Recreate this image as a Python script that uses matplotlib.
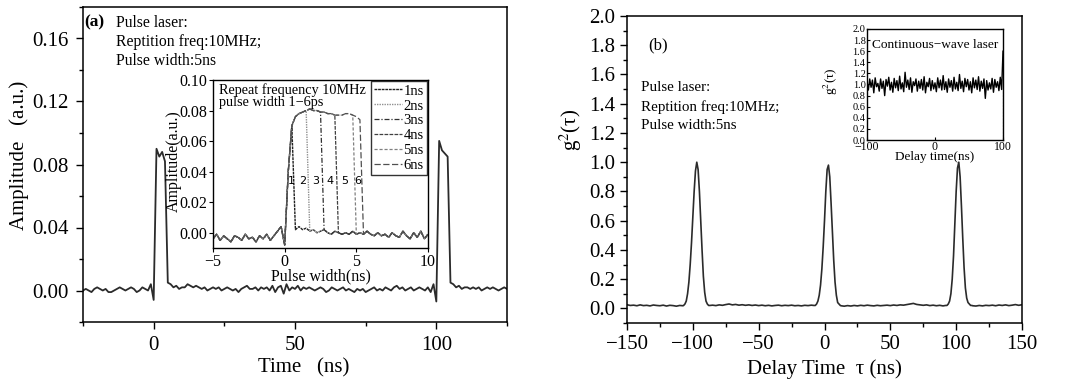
import numpy as np
import matplotlib
matplotlib.use('Agg')
import matplotlib.pyplot as plt
from matplotlib.ticker import MultipleLocator, FormatStrFormatter

plt.rcParams['font.family'] = ['Liberation Serif', 'DejaVu Serif']
plt.rcParams['mathtext.fontset'] = 'stix'

# ---------------- data: panel (a) main trace ----------------
time_a = np.arange(-25, 126, 1)
amp_a = [
    0.000, 0.001, 0.000, -0.001, 0.001, 0.002, 0.001, 0.000, 0.001, -0.001,
    -0.001, 0.000, 0.001, 0.002, 0.001, 0.000, 0.001, 0.002, 0.001, -0.001,
    0.000, 0.002, 0.001, 0.000, 0.004,
    -0.006, 0.090, 0.085, 0.088, 0.082, 0.005,
    0.004, 0.002, 0.003, 0.001, 0.002, 0.002, 0.004, 0.003, 0.002, 0.003,
    0.002, 0.001, 0.002, 0.000, 0.001, 0.002, 0.001, 0.002, 0.000,
    0.001, 0.002, 0.001, 0.000, 0.001,
    -0.001, 0.001, 0.002, 0.003, 0.001,
    0.001, 0.002, 0.000, 0.002, 0.001,
    0.002, 0.000, 0.003, -0.001, 0.002,
    0.003, -0.002, 0.004, 0.000, 0.002,
    0.001, 0.003, 0.000, 0.002, 0.001,
    0.002, 0.001, 0.000, 0.001, 0.002,
    0.001, -0.001, 0.000, 0.002, 0.001,
    0.000, 0.001, 0.002, 0.000, 0.001,
    0.000, -0.001, 0.001, 0.000, 0.001,
    -0.001, 0.000, 0.001, 0.002, 0.000,
    0.001, 0.000, 0.002, 0.001, 0.000,
    0.002, 0.003, 0.001, 0.002, 0.000,
    0.001, 0.002, 0.000, 0.001, 0.002,
    0.001, 0.000, 0.002, -0.001, 0.004,
    -0.007, 0.095, 0.089, 0.087, 0.085, 0.005,
    0.004, 0.002, 0.003, 0.001, 0.002, 0.002, 0.001, 0.002, 0.001, 0.002,
    0.000, 0.001, 0.002, 0.001, 0.002, 0.001, 0.000, 0.001, 0.002, 0.001,
]

# ---------------- data: panel (a) inset ----------------
pre_x = np.arange(-5, 0, 0.25)
pre_amp = [-0.004, -0.001, -0.005, -0.002, -0.004, -0.006, -0.002, -0.003, -0.005, -0.001,
           -0.004, -0.003, -0.006, -0.002, -0.004, -0.001, -0.005, -0.002, 0.001, 0.004]
on_x = np.arange(0, 6.01, 0.25)
on_amp = [-0.008, 0.040, 0.070, 0.076, 0.078, 0.079, 0.080, 0.081, 0.080, 0.080,
          0.079, 0.079, 0.078, 0.078, 0.077, 0.077, 0.077, 0.078, 0.078, 0.077,
          0.076, 0.074, 0.072, 0.070, 0.068]
post_x = np.arange(0.25, 10.01, 0.25)
post_amp = [0.000, 0.000, 0.002, 0.004, 0.002, 0.003, 0.001, 0.002, 0.000, 0.001,
            0.002, 0.000, -0.001, 0.001, 0.000, -0.001, 0.000, -0.001, 0.001, -0.001,
            0.000, -0.001, 0.001, -0.001, -0.002, 0.000, -0.002, -0.001, -0.003, 0.000,
            -0.002, -0.003, 0.001, -0.002, -0.004, 0.000, -0.003, 0.001, -0.004, -0.001]
width_labels = ['1ns', '2ns', '3ns', '4ns', '5ns', '6ns']
fall_ns = [0.5, 1.5, 2.5, 3.5, 4.75, 5.25]
mark_text = ['1', '2', '3', '4', '5', '6']
mark_x = [0.45, 1.25, 2.15, 3.15, 4.2, 5.1]

# ---------------- data: panel (b) ----------------
base_tau = np.arange(-150, 150.1, 2.5)
base_g2 = [
    0.025, 0.020, 0.022, 0.018, 0.024, 0.019, 0.021, 0.017, 0.023, 0.020,
    0.018, 0.022, 0.016, 0.021, 0.019, 0.015, 0.020, 0.018, 0.022, 0.020,
    0.020, 0.020, 0.020, 0.020, 0.020, 0.018, 0.022, 0.019, 0.024, 0.021,
    0.026, 0.030, 0.024, 0.027, 0.022, 0.025, 0.021, 0.024, 0.020, 0.023,
    0.019, 0.022, 0.018, 0.021, 0.017, 0.020, 0.022, 0.018, 0.021, 0.019,
    0.022, 0.018, 0.020, 0.017, 0.021, 0.019, 0.022, 0.018, 0.020, 0.020,
    0.020, 0.020, 0.020, 0.020, 0.020, 0.018, 0.015, 0.019, 0.016, 0.020,
    0.017, 0.021, 0.018, 0.022, 0.019, 0.017, 0.021, 0.018, 0.020, 0.022,
    0.019, 0.023, 0.020, 0.024, 0.022, 0.026, 0.030, 0.034, 0.027, 0.024,
    0.021, 0.024, 0.019, 0.022, 0.018, 0.021, 0.017, 0.020, 0.020, 0.020,
    0.020, 0.020, 0.020, 0.020, 0.020, 0.018, 0.016, 0.020, 0.017, 0.021,
    0.019, 0.022, 0.018, 0.023, 0.020, 0.024, 0.019, 0.022, 0.026, 0.021, 0.025,
]
peak1_tau = np.arange(-107, -86, 1)
peak1_g2 = [0.02, 0.03, 0.05, 0.10, 0.18, 0.30, 0.45, 0.62, 0.80, 0.94, 1.00,
            0.95, 0.80, 0.60, 0.40, 0.22, 0.11, 0.05, 0.03, 0.02, 0.02]
peak2_tau = np.arange(-8, 13, 1)
peak2_g2 = [0.02, 0.02, 0.03, 0.05, 0.09, 0.16, 0.27, 0.42, 0.60, 0.80, 0.95,
            0.98, 0.90, 0.72, 0.52, 0.33, 0.18, 0.09, 0.04, 0.03, 0.02]
peak3_tau = np.arange(92, 113, 1)
peak3_g2 = [0.02, 0.02, 0.03, 0.05, 0.10, 0.20, 0.36, 0.58, 0.80, 0.96, 1.00,
            0.90, 0.70, 0.48, 0.28, 0.14, 0.07, 0.04, 0.03, 0.02, 0.02]

cw_tau = np.arange(-100, 100.1, 2)
cw_g2 = [
    1.05, 0.90, 1.10, 0.95, 1.08, 0.85, 1.12, 0.96, 1.02, 0.88,
    1.10, 0.93, 1.06, 0.80, 1.09, 0.97, 1.13, 0.90, 1.04, 0.86,
    1.11, 0.94, 1.07, 0.89, 1.15, 0.92, 1.03, 0.87, 1.22, 0.95,
    1.08, 0.91, 1.12, 0.86, 1.05, 0.98, 1.10, 0.88, 1.06, 0.93,
    1.09, 0.90, 1.14, 0.85, 1.04, 0.96, 1.11, 0.89, 1.07, 0.92,
    1.03, 0.87, 1.12, 0.94, 1.08, 0.90, 1.16, 0.91, 1.05, 0.86,
    1.10, 0.95, 1.07, 0.88, 1.13, 0.92, 1.04, 0.89, 1.18, 0.93,
    1.06, 0.87, 1.11, 0.96, 1.09, 0.90, 1.05, 0.85, 1.12, 0.94,
    1.08, 0.91, 1.14, 0.88, 1.06, 0.93, 1.10, 0.75, 1.07, 0.90,
    1.03, 0.92, 1.11, 0.86, 1.09, 0.95, 1.05, 0.89, 1.13, 0.91,
    1.60,
]
cw_tail_tau = [100, 100]
cw_tail_g2 = [1.60, 0.0]

# ---------------- figure ----------------
fig = plt.figure(figsize=(10.69, 3.85), dpi=100)
line_c = '#2b2b2b'

def style_main(ax, pad):
    ax.tick_params(which='major', direction='out', length=5, width=1, labelsize=15, pad=pad)
    ax.tick_params(which='minor', direction='out', length=3, width=1)
    for s in ax.spines.values():
        s.set_linewidth(1.1)

# ---- panel (a)
ax1 = fig.add_axes([83/1069, 63/385, (507-83)/1069, 315/385])
ax1.plot(time_a, amp_a, color=line_c, lw=1.3)
ax1.set_xlim(-25, 125)
ax1.set_ylim(-0.02, 0.18)
ax1.xaxis.set_major_locator(MultipleLocator(50))
ax1.xaxis.set_minor_locator(MultipleLocator(25))
ax1.yaxis.set_major_locator(MultipleLocator(0.04))
ax1.yaxis.set_minor_locator(MultipleLocator(0.02))
ax1.yaxis.set_major_formatter(FormatStrFormatter('%.2f'))
style_main(ax1, 5)
ax1.set_xlabel('Time   (ns)', fontsize=15)
ax1.set_ylabel('Amplitude   (a.u.)', fontsize=15)
ax1.xaxis.set_label_coords(0.52, -0.115)
ax1.yaxis.set_label_coords(-0.128, 0.53)
ax1.text(-24.4, 0.170, '(a)', fontsize=12.5, fontweight='bold', va='center')
ax1.text(-13.5, 0.170, 'Pulse laser:', fontsize=11.3, va='center')
ax1.text(-13.5, 0.158, 'Reptition freq:10MHz;', fontsize=11.3, va='center')
ax1.text(-13.5, 0.146, 'Pulse width:5ns', fontsize=11.3, va='center')

# ---- inset (a)
axi = fig.add_axes([213/1069, (385-248)/385, 215/1069, 168/385])
styles = [
    dict(color='#202020', ls=(0, (2, 0.6)), lw=1.0),
    dict(color='#909090', ls=(0, (1, 0.8)), lw=1.0),
    dict(color='#303030', ls=(0, (4, 1.5, 1, 1.5)), lw=0.9),
    dict(color='#404040', ls=(0, (3, 1)), lw=0.9),
    dict(color='#808080', ls=(0, (2.5, 1.5)), lw=0.9),
    dict(color='#505050', ls=(0, (5, 2)), lw=0.9),
]
pre_x = np.asarray(pre_x); on_x = np.asarray(on_x); post_x = np.asarray(post_x)
pre_amp = np.asarray(pre_amp); on_amp = np.asarray(on_amp); post_amp = np.asarray(post_amp)
for lab, f, st in zip(width_labels, fall_ns, styles):
    mon = on_x <= f + 1e-9
    mpost = post_x > f + 1e-9
    xs = np.concatenate([pre_x, on_x[mon], post_x[mpost]])
    ys = np.concatenate([pre_amp, on_amp[mon], post_amp[mpost]])
    axi.plot(xs, ys, label=lab, **st)
for mt, mx in zip(mark_text, mark_x):
    axi.text(mx, 0.034, mt, fontsize=8, family='DejaVu Sans', ha='center', va='center')
axi.set_xlim(-5, 10)
axi.set_ylim(-0.01, 0.10)
axi.xaxis.set_major_locator(MultipleLocator(5))
axi.yaxis.set_major_locator(MultipleLocator(0.02))
axi.yaxis.set_major_formatter(FormatStrFormatter('%.2f'))
axi.tick_params(direction='out', length=3, labelsize=11.5, pad=1.5)
for s in axi.spines.values():
    s.set_linewidth(1.0)
axi.set_xlabel('Pulse width(ns)', fontsize=11.5, labelpad=-1)
axi.set_ylabel('Amplitude(a.u.)', fontsize=11.5)
axi.yaxis.set_label_coords(-0.145, 0.52)
axi.text(-4.6, 0.098, 'Repeat frequency 10MHz\npulse width 1\u22126ps', fontsize=10.3,
         va='top', linespacing=0.95)
leg = axi.legend(loc='upper right', fontsize=10.5, handlelength=1.9, handletextpad=0.1,
                 labelspacing=0.12, borderpad=0.2, borderaxespad=0.1, frameon=True,
                 fancybox=False)
leg.get_frame().set_edgecolor('black')
leg.get_frame().set_linewidth(1.0)

# ---- panel (b)
ax2 = fig.add_axes([627/1069, 62/385, 395/1069, 307/385])
base_tau = np.asarray(base_tau); base_g2 = np.asarray(base_g2)
keep = np.ones(len(base_tau), bool)
for pt in (peak1_tau, peak2_tau, peak3_tau):
    keep &= ~((base_tau >= pt[0]) & (base_tau <= pt[-1]))
all_tau = np.concatenate([base_tau[keep], peak1_tau, peak2_tau, peak3_tau])
all_g2 = np.concatenate([base_g2[keep], peak1_g2, peak2_g2, peak3_g2])
order = np.argsort(all_tau, kind='stable')
ax2.plot(all_tau[order], all_g2[order], color=line_c, lw=1.2)
ax2.set_xlim(-150, 150)
ax2.set_ylim(-0.1, 2.0)
ax2.xaxis.set_major_locator(MultipleLocator(50))
ax2.xaxis.set_minor_locator(MultipleLocator(25))
ax2.yaxis.set_major_locator(MultipleLocator(0.2))
ax2.yaxis.set_minor_locator(MultipleLocator(0.1))
ax2.yaxis.set_major_formatter(FormatStrFormatter('%.1f'))
style_main(ax2, 3.5)
ax2.set_xlabel('Delay Time  \u03c4 (ns)', fontsize=15)
ax2.set_ylabel('g$^2$(\u03c4)', fontsize=15)
ax2.xaxis.set_label_coords(0.50, -0.118)
ax2.yaxis.set_label_coords(-0.11, 0.63)
ax2.text(-134, 1.80, '(b)', fontsize=12, va='center')
ax2.text(-139, 1.51, 'Pulse laser:', fontsize=10.8, va='center')
ax2.text(-139, 1.38, 'Reptition freq:10MHz;', fontsize=10.8, va='center')
ax2.text(-139, 1.25, 'Pulse width:5ns', fontsize=10.8, va='center')

# ---- inset (b)
axb = fig.add_axes([867/1069, (385-140)/385, 136/1069, 111/385])
axb.plot(cw_tau, cw_g2, color='black', lw=1.0)
axb.plot(cw_tail_tau, cw_tail_g2, color='#555555', lw=0.8, ls=(0, (2, 1)))
axb.set_xlim(-100, 100)
axb.set_ylim(0, 2.0)
axb.xaxis.set_major_locator(MultipleLocator(100))
axb.yaxis.set_major_locator(MultipleLocator(0.2))
axb.yaxis.set_major_formatter(FormatStrFormatter('%.1f'))
axb.tick_params(axis='x', direction='in', length=2, labelsize=8.5, pad=1)
axb.tick_params(axis='y', direction='in', length=2, labelsize=7.5, pad=1)
for s in axb.spines.values():
    s.set_linewidth(1.0)
axb.set_xlabel('Delay time(ns)', fontsize=9.5, labelpad=-1.5)
axb.set_ylabel('g$^2$(\u03c4)', fontsize=9.5, labelpad=0)
axb.yaxis.set_label_coords(-0.20, 0.53)
axb.text(0.04, 0.86, 'Continuous\u2212wave laser', transform=axb.transAxes, fontsize=9.6,
         va='center')

fig.savefig('out.png', dpi=100)
